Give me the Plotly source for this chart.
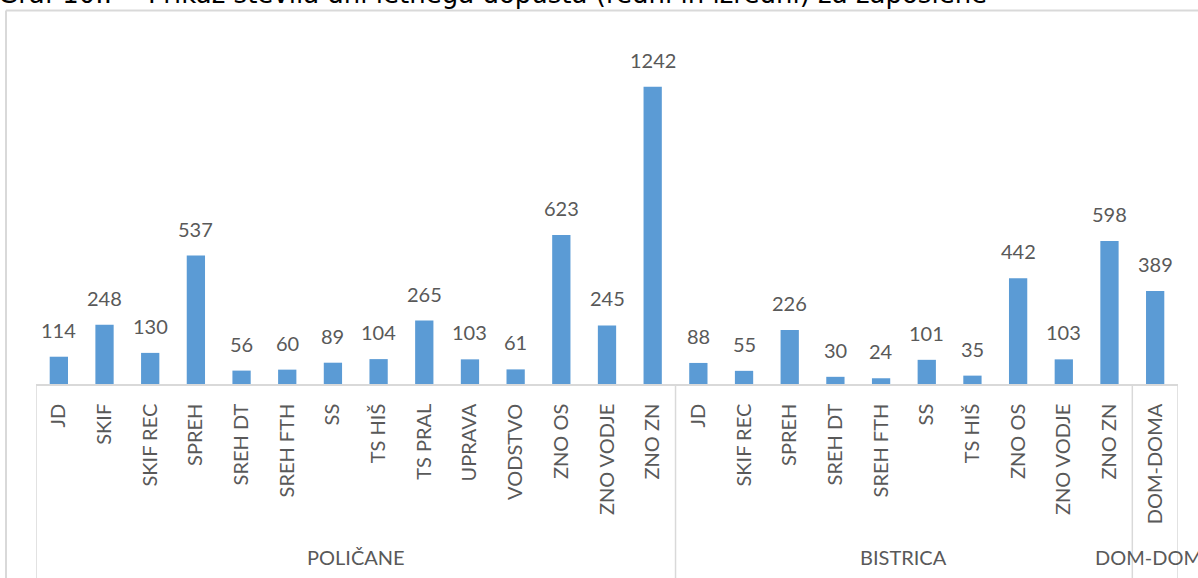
import plotly.graph_objects as go

groups = ["POLIČANE", "BISTRICA", "DOM-DOMA"]
group_categories = [
    ["JD", "SKIF", "SKIF REC", "SPREH", "SREH DT", "SREH FTH", "SS", "TS HIŠ",
     "TS PRAL", "UPRAVA", "VODSTVO", "ZNO OS", "ZNO VODJE", "ZNO ZN"],
    ["JD", "SKIF REC", "SPREH", "SREH DT", "SREH FTH", "SS", "TS HIŠ",
     "ZNO OS", "ZNO VODJE", "ZNO ZN"],
    ["DOM-DOMA"],
]
group_values = [
    [114, 248, 130, 537, 56, 60, 89, 104, 265, 103, 61, 623, 245, 1242],
    [88, 55, 226, 30, 24, 101, 35, 442, 103, 598],
    [389],
]
title_number = "Graf 10.:"
title_text = "Prikaz števila dni letnega dopusta (redni in izredni) za zaposlene"

labels = [c for g in group_categories for c in g]
values = [v for g in group_values for v in g]
xs = list(range(len(labels)))

BAR = "#5B9BD5"
TXT = "#595959"
GRID = "#D9D9D9"
FONT = "Lato"

W, H = 1198, 578
ML, MR, MT, MB = 36, 20, 49, 194
PW, PH = W - ML - MR, H - MT - MB


def px_x(p):
    return (p - ML) / PW


def px_y(p):
    return (H - MB - p) / PH


fig = go.Figure()
fig.add_trace(go.Bar(x=xs, y=values, marker=dict(color=BAR, line=dict(width=0)),
                     hoverinfo="x+y"))

annotations = []
for x, v in zip(xs, values):
    annotations.append(dict(x=x, y=v, xref="x", yref="y", text=str(v), showarrow=False,
                            yanchor="bottom", yshift=13,
                            font=dict(family=FONT, size=20, color=TXT)))

shapes = []
start = 0
bounds = [-0.5]
for gname, cats in zip(groups, group_categories):
    n = len(cats)
    center = start + (n - 1) / 2
    annotations.append(dict(x=center, y=px_y(557), xref="x", yref="paper", text=gname,
                            showarrow=False, yanchor="middle", xanchor="center",
                            font=dict(family=FONT, size=20, color=TXT)))
    start += n
    bounds.append(start - 0.5)

for b in bounds:
    shapes.append(dict(type="line", xref="x", yref="paper", x0=b, x1=b,
                       y0=0, y1=px_y(H + 10), line=dict(color=GRID, width=1.5)))

# chart area frame
shapes.append(dict(type="line", xref="paper", yref="paper", x0=px_x(6), x1=px_x(6),
                   y0=px_y(10.5), y1=px_y(H + 10), line=dict(color=GRID, width=2)))
shapes.append(dict(type="line", xref="paper", yref="paper", x0=px_x(6), x1=px_x(W + 10),
                   y0=px_y(10.5), y1=px_y(10.5), line=dict(color=GRID, width=2)))

title_font = dict(family="DejaVu Sans", size=26, color="#000000")
annotations.append(dict(x=px_x(-4), y=px_y(11), xref="paper", yref="paper",
                        text=title_number, showarrow=False, xanchor="left", yanchor="bottom",
                        font=title_font))
annotations.append(dict(x=px_x(146), y=px_y(11), xref="paper", yref="paper",
                        text=title_text, showarrow=False, xanchor="left", yanchor="bottom",
                        font=title_font))

fig.update_layout(
    width=W, height=H,
    margin=dict(l=ML, r=MR, t=MT, b=MB, pad=0),
    paper_bgcolor="white", plot_bgcolor="white",
    showlegend=False,
    bargap=0.6,
    annotations=annotations,
    shapes=shapes,
    xaxis=dict(range=[-0.5, len(labels) - 0.5], tickmode="array", tickvals=xs,
               ticktext=labels, tickangle=-90, ticks="", showgrid=False, zeroline=False,
               showline=True, linecolor=GRID, linewidth=1.5, ticklabelstandoff=10,
               tickfont=dict(family=FONT, size=20, color=TXT), fixedrange=True),
    yaxis=dict(range=[0, 1400], visible=False, fixedrange=True),
)

fig.write_html("out.html", config={"displayModeBar": False},
               post_script="document.body.style.margin='0';document.body.style.overflow='hidden';")
